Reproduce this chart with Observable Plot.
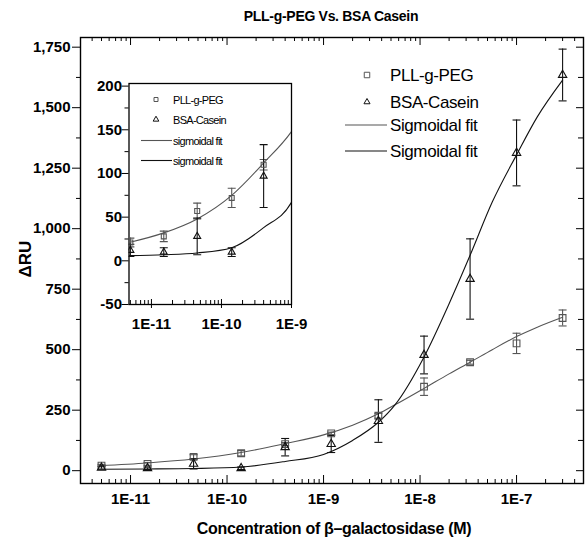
<!DOCTYPE html>
<html><head><meta charset="utf-8">
<script src="https://cdn.jsdelivr.net/npm/d3@7"></script>
<script src="https://cdn.jsdelivr.net/npm/@observablehq/plot@0.6"></script>
<style>
body{margin:0;background:#fff;}
#wrap{position:relative;width:587px;height:543px;background:#fff;font-family:"Liberation Sans",Arial,sans-serif;}
#wrap svg{position:absolute;left:0;top:0;}
</style></head><body><div id="wrap"></div>
<script>
// ---- data ----
const conc   = [5e-12, 1.5e-11, 4.5e-11, 1.4e-10, 4e-10, 1.2e-9, 3.7e-9, 1.1e-8, 3.3e-8, 1e-7, 3e-7];
const pll    = [21, 28, 57, 72, 110, 154, 227, 347, 448, 526, 631];
const pllErr = [5, 6, 9, 11, 6, 5, 10, 36, 8, 42, 33];
const bsa    = [12, 10, 28, 10, 97, 110, 205, 478, 792, 1313, 1635];
const bsaErr = [7, 5, 21, 5, 36, 35, 88, 78, 166, 136, 107];
const fitX   = [4.8e-12, 1.5e-11, 4.5e-11, 1.4e-10, 4e-10, 1e-9, 2e-9, 3.7e-9, 5.5e-9, 1.1e-8, 2e-8, 3.3e-8, 5.6e-8, 1e-7, 1.64e-7, 3e-7];
const pllFit = [21, 32, 48, 75, 112, 148, 188, 235, 272, 340, 400, 448, 500, 554, 593, 634];
const bsaFit = [6, 7, 9, 15, 38, 67, 125, 200, 272, 470, 690, 890, 1110, 1305, 1462, 1614];

const xMajor = [1e-11, 1e-10, 1e-9, 1e-8, 1e-7];
const xMajorLabels = ["1E-11", "1E-10", "1E-9", "1E-8", "1E-7"];
const yMajor = [0, 250, 500, 750, 1000, 1250, 1500, 1750];
const yMinor = [125, 375, 625, 875, 1125, 1375, 1625];
const insetXMajor = [1e-11, 1e-10, 1e-9];
const insetXLabels = ["1E-11", "1E-10", "1E-9"];
const insetYMajor = [-50, 0, 50, 100, 150, 200];
const insetYMinor = [-25, 25, 75, 125, 175];

const title = "PLL-g-PEG Vs. BSA Casein";
const xLabel = "Concentration of β\u2013galactosidase (M)";
const yLabel = "\u0394RU";
const legendMain = ["PLL-g-PEG", "BSA-Casein", "Sigmoidal fit", "Sigmoidal fit"];
const legendInset = ["PLL-g-PEG", "BSA-Casein", "sigmoidal fit", "sigmoidal fit"];

// ---- helpers ----
const FONT = '"Liberation Sans", Arial, sans-serif';
const GREY = "#555";
const minorLog = (lo, hi) => {
  const out = [];
  for (let e = -13; e <= -6; e++) for (let k = 2; k <= 9; k++) {
    const v = k * Math.pow(10, e);
    if (v > lo && v < hi) out.push(v);
  }
  return out;
};
const cap = {draw(ctx, size) { const w = Math.sqrt(size / Math.PI); ctx.moveTo(-w, 0); ctx.lineTo(w, 0); }};

const pts = conc.map((x, i) => ({x, pll: pll[i], pllLo: pll[i] - pllErr[i], pllHi: pll[i] + pllErr[i],
  bsa: bsa[i], bsaLo: bsa[i] - bsaErr[i], bsaHi: bsa[i] + bsaErr[i]}));
const fit = fitX.map((x, i) => ({x, pll: pllFit[i], bsa: bsaFit[i]}));

function dataMarks(points, fitData, clip, r, rt) {
  return [
    Plot.line(fitData, {x: "x", y: "pll", curve: "monotone-x", stroke: GREY, strokeWidth: 1.1, clip}),
    Plot.line(fitData, {x: "x", y: "bsa", curve: "monotone-x", stroke: "#111", strokeWidth: 1.1, clip}),
    Plot.ruleX(points, {x: "x", y1: "pllLo", y2: "pllHi", stroke: GREY, strokeWidth: 1.1, clip}),
    Plot.dot(points, {x: "x", y: "pllLo", symbol: cap, r: 4, stroke: GREY, strokeWidth: 1.1, clip}),
    Plot.dot(points, {x: "x", y: "pllHi", symbol: cap, r: 4, stroke: GREY, strokeWidth: 1.1, clip}),
    Plot.ruleX(points, {x: "x", y1: "bsaLo", y2: "bsaHi", stroke: "#111", strokeWidth: 1.1, clip}),
    Plot.dot(points, {x: "x", y: "bsaLo", symbol: cap, r: 4, stroke: "#111", strokeWidth: 1.1, clip}),
    Plot.dot(points, {x: "x", y: "bsaHi", symbol: cap, r: 4, stroke: "#111", strokeWidth: 1.1, clip}),
    Plot.dot(points, {x: "x", y: "pll", symbol: "square", r: r, stroke: GREY, fill: "none", strokeWidth: 1.1, clip}),
    Plot.dot(points, {x: "x", y: "bsa", symbol: "triangle", r: rt, stroke: "#111", fill: "none", strokeWidth: 1.1, clip})
  ];
}

// ---- main plot ----
const L = 80, R = 583, T = 37, B = 483, W = 587, H = 543;
const fw = R - L, fh = B - T;
const xMinor = minorLog(3.03e-12, 4.94e-7);

const main = Plot.plot({
  width: W, height: H,
  marginLeft: L, marginRight: W - R, marginTop: T, marginBottom: H - B,
  style: {fontFamily: FONT, background: "transparent", overflow: "visible"},
  x: {type: "log", domain: [3.03e-12, 4.94e-7]},
  y: {domain: [-53, 1790]},
  marks: [
    Plot.frame({stroke: "#000", strokeWidth: 1.4}),
    Plot.tickX(xMajor, {x: d => d, insetTop: fh - 8, stroke: "#000"}),
    Plot.tickX(xMinor, {x: d => d, insetTop: fh - 4, stroke: "#000"}),
    Plot.tickX(xMajor, {x: d => d, insetBottom: fh - 8, stroke: "#000"}),
    Plot.tickX(xMinor, {x: d => d, insetBottom: fh - 4, stroke: "#000"}),
    Plot.tickY(yMajor, {y: d => d, insetLeft: -8, insetRight: fw, stroke: "#000"}),
    Plot.tickY(yMinor, {y: d => d, insetLeft: -4, insetRight: fw, stroke: "#000"}),
    Plot.tickY(yMajor, {y: d => d, insetLeft: fw - 7, stroke: "#000"}),
    Plot.tickY(yMinor, {y: d => d, insetLeft: fw - 5, stroke: "#000"}),
    Plot.axisX({ticks: xMajor, tickSize: 0, tickPadding: 10, label: null,
      tickFormat: d => xMajorLabels[xMajor.indexOf(d)], fontSize: 15, fontWeight: "bold", fill: "#000"}),
    Plot.axisY({ticks: yMajor, tickSize: 0, tickPadding: 10, label: null,
      tickFormat: d3.format(","), fontSize: 15, fontWeight: "bold", fill: "#000"}),
    ...dataMarks(pts, fit, false, 3.8, 3.1)
  ]
});
document.getElementById("wrap").appendChild(main);

// ---- inset plot ----
const iL = 128.5, iR = 291, iT = 83, iB = 304;
const ox = 60, oy = 60, iW = 250, iH = 290;
const ifw = iR - iL, ifh = iB - iT;
const insetXDomain = [4.78e-12, 1e-9];
const insetPts = pts.filter(p => p.x <= 1e-9);
const inset = Plot.plot({
  width: iW, height: iH,
  marginLeft: iL - ox, marginRight: ox + iW - iR, marginTop: iT - oy, marginBottom: oy + iH - iB,
  style: {fontFamily: FONT, background: "transparent", overflow: "visible"},
  x: {type: "log", domain: insetXDomain},
  y: {domain: [-50, 203]},
  marks: [
    Plot.frame({stroke: "#000", strokeWidth: 1.3}),
    Plot.tickX(insetXMajor, {x: d => d, insetTop: ifh - 5, insetBottom: -4, stroke: "#000"}),
    Plot.tickX(minorLog(insetXDomain[0], insetXDomain[1]), {x: d => d, insetTop: ifh - 4, stroke: "#000"}),
    Plot.tickY(insetYMajor, {y: d => d, insetLeft: -7, insetRight: ifw, stroke: "#000"}),
    Plot.tickY(insetYMinor, {y: d => d, insetLeft: -4, insetRight: ifw, stroke: "#000"}),
    Plot.axisX({ticks: insetXMajor, tickSize: 0, tickPadding: 14, label: null,
      tickFormat: d => insetXLabels[insetXMajor.indexOf(d)], fontSize: 15, fontWeight: "bold", fill: "#000"}),
    Plot.axisY({ticks: insetYMajor, tickSize: 0, tickPadding: 7, label: null,
      tickFormat: d => String(d), fontSize: 15, fontWeight: "bold", fill: "#000"}),
    ...dataMarks(insetPts, fit, true, 2.8, 2.6)
  ]
});
inset.style.left = ox + "px";
inset.style.top = oy + "px";
document.getElementById("wrap").appendChild(inset);

// ---- titles and legends overlay ----
const ov = d3.select("#wrap").append("svg").attr("width", W).attr("height", H)
  .style("font-family", FONT).style("overflow", "visible");
ov.append("text").attr("x", 331).attr("y", 21).attr("text-anchor", "middle")
  .attr("font-size", 14).attr("font-weight", "bold").attr("letter-spacing", "-0.3").text(title);
ov.append("text").attr("x", 334).attr("y", 534).attr("text-anchor", "middle")
  .attr("font-size", 16).attr("font-weight", "bold").attr("letter-spacing", "-0.3").text(xLabel);
ov.append("text").attr("transform", "translate(31,259) rotate(-90)").attr("text-anchor", "middle")
  .attr("font-size", 17).attr("font-weight", "bold").text(yLabel);

function legend(g, items, o) {
  const sym = d3.symbol();
  g.append("path").attr("d", sym.type(d3.symbolSquare).size(o.sq)()).attr("transform", `translate(${o.sx},${o.y[0]})`)
    .attr("fill", "none").attr("stroke", GREY);
  g.append("path").attr("d", sym.type(d3.symbolTriangle).size(o.tr)()).attr("transform", `translate(${o.sx},${o.y[1]})`)
    .attr("fill", "none").attr("stroke", "#111");
  g.append("line").attr("x1", o.lx1).attr("x2", o.lx2).attr("y1", o.y[2]).attr("y2", o.y[2]).attr("stroke", GREY).attr("stroke-width", 1.1);
  g.append("line").attr("x1", o.lx1).attr("x2", o.lx2).attr("y1", o.y[3]).attr("y2", o.y[3]).attr("stroke", "#111").attr("stroke-width", 1.1);
  items.forEach((t, i) => g.append("text").attr("x", o.tx).attr("y", o.y[i] + o.dy)
    .attr("font-size", o.fs).attr("letter-spacing", o.ls).text(t));
}
legend(ov.append("g"), legendMain, {sx: 367, lx1: 345, lx2: 387, tx: 390, y: [75, 102, 125, 151], dy: 6, fs: 17, ls: -0.4, sq: 30, tr: 16});
legend(ov.append("g"), legendInset, {sx: 156, lx1: 141, lx2: 172, tx: 173, y: [99.5, 119.5, 140.5, 160.5], dy: 4, fs: 11, ls: -0.7, sq: 16, tr: 14});
</script></body></html>
